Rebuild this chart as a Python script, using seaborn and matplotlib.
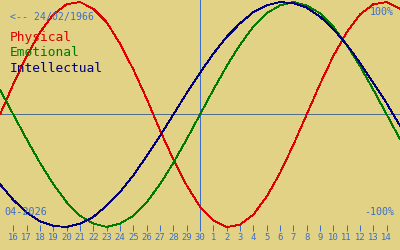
import matplotlib
matplotlib.use("Agg")
import matplotlib.pyplot as plt
import seaborn as sns
import pandas as pd

# ---- data ----
day_index = list(range(0, 31))  # 0 = 15 Apr, 15 = 30 Apr (today), 30 = 15 May
physical = [0.00, 0.27, 0.52, 0.73, 0.89, 0.98, 1.00, 0.94, 0.82, 0.63, 0.40,
            0.14, -0.14, -0.40, -0.63, -0.82, -0.94, -1.00, -0.98, -0.89, -0.73,
            -0.52, -0.27, 0.00, 0.27, 0.52, 0.73, 0.89, 0.98, 1.00, 0.94]
emotional = [0.22, 0.00, -0.22, -0.43, -0.62, -0.78, -0.90, -0.97, -1.00, -0.97,
             -0.90, -0.78, -0.62, -0.43, -0.22, 0.00, 0.22, 0.43, 0.62, 0.78,
             0.90, 0.97, 1.00, 0.97, 0.90, 0.78, 0.62, 0.43, 0.22, 0.00, -0.22]
intellectual = [-0.62, -0.76, -0.87, -0.95, -0.99, -1.00, -0.97, -0.91, -0.81,
                -0.69, -0.54, -0.37, -0.19, 0.00, 0.19, 0.37, 0.54, 0.69, 0.81,
                0.91, 0.97, 1.00, 0.99, 0.95, 0.87, 0.76, 0.62, 0.46, 0.28,
                0.10, -0.10]
tick_positions = list(range(1, 30))
tick_labels = [str(d) for d in range(16, 31)] + [str(d) for d in range(1, 15)]
today_index = 15
birth_label = "<-- 24/02/1966"
month_label = "04-2026"
series_names = ["Physical", "Emotional", "Intellectual"]

# ---- style ----
BG = "#E1D285"
BLUE = "#3C6EC8"
colors = {"Physical": "#DD0000", "Emotional": "#007A00", "Intellectual": "#00007A"}

sns.set_style("white", {"axes.facecolor": BG, "figure.facecolor": BG})
plt.rcParams["font.family"] = ["DejaVu Sans Mono", "DejaVu Sans"]

df = pd.DataFrame({
    "day": day_index * 3,
    "value": physical + emotional + intellectual,
    "series": ["Physical"] * 31 + ["Emotional"] * 31 + ["Intellectual"] * 31,
})

fig = plt.figure(figsize=(4, 2.5), dpi=100)
fig.patch.set_facecolor(BG)
ax = fig.add_axes([0, 19 / 250, 1, 231 / 250])
ax.set_facecolor(BG)

lw = 0.6
ax.axhline(0, color="#507090", lw=lw, antialiased=False, zorder=1)
ax.axvline(today_index, color=BLUE, lw=lw, antialiased=False, zorder=1)

sns.lineplot(data=df, x="day", y="value", hue="series", palette=colors,
             hue_order=series_names, ax=ax, legend=False, lw=lw, zorder=3)
for ln in ax.lines:
    ln.set_antialiased(False)

ax.set_xlim(0, 30)
ax.set_ylim(-1.0356, 1.0178)
ax.set_xlabel("")
ax.set_ylabel("")
ax.set_yticks([])
ax.set_xticks(tick_positions)
ax.set_xticklabels(tick_labels)
ax.tick_params(axis="x", bottom=True, direction="in", length=4.3, width=0.72,
               color=BLUE, labelcolor=BLUE, labelsize=6.4, pad=1.6)
for s in ax.spines.values():
    s.set_visible(False)

def px(x, y):
    return x / 400, 1 - y / 250

fig.text(*px(10, 17), birth_label, color=BLUE, fontsize=7.1, va="center", ha="left")
ypos = [38, 53, 68]
for name, yy in zip(series_names, ypos):
    fig.text(*px(10, yy), name, color=colors[name], fontsize=9.3, va="center", ha="left")
fig.text(*px(4, 212), month_label, color=BLUE, fontsize=7.3, va="center", ha="left")
fig.text(*px(394, 12), "100%", color=BLUE, fontsize=7.2, va="center", ha="right")
fig.text(*px(394, 212), "-100%", color=BLUE, fontsize=7.2, va="center", ha="right")

fig.savefig("out.png", dpi=100, facecolor=BG)
